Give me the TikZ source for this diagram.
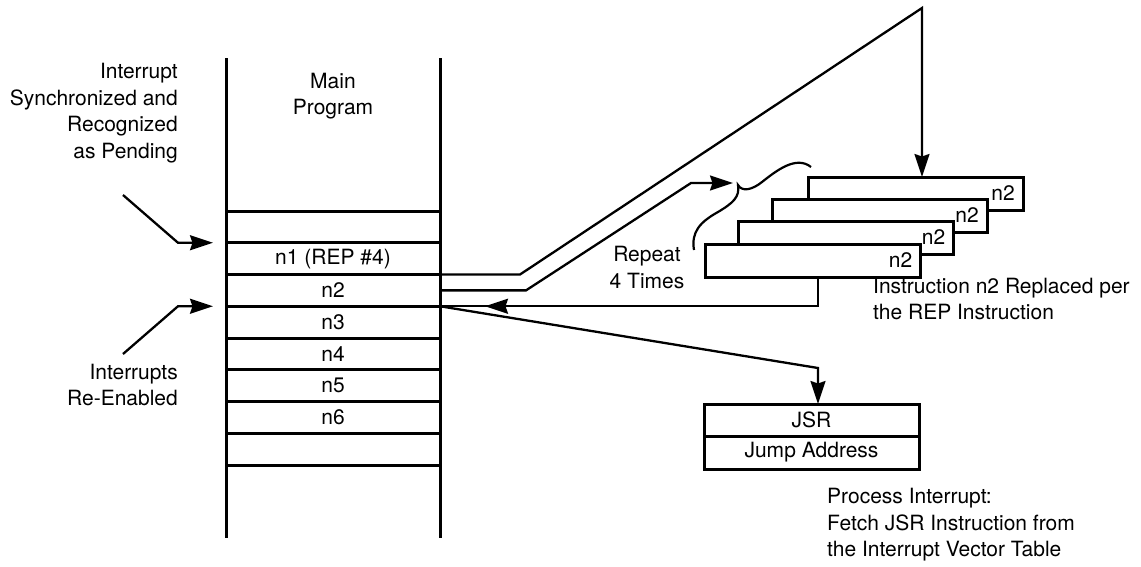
\documentclass[tikz,border=0pt]{standalone}
\usepackage{fontspec}
\setmainfont{TeX Gyre Heros}
\usetikzlibrary{arrows.meta}
\tikzset{
  colline/.style={line width=3pt},
  conn/.style={line width=2.3pt, line join=miter},
  tip/.style={-{Stealth[length=23pt,width=15pt,inset=2.5pt]}},
  rowbox/.style={draw, line width=3pt, minimum width=214pt, minimum height=31.75pt, inner sep=0pt, outer sep=0pt, anchor=north west, font=\fontsize{21}{26.5}\selectfont},
  ibox/.style={draw, fill=white, line width=3pt, minimum width=215pt, minimum height=33pt, inner sep=0pt, outer sep=0pt},
  jbox/.style={draw, line width=3pt, minimum width=215pt, inner sep=0pt, outer sep=0pt, font=\fontsize{21}{26.5}\selectfont},
  txt/.style={inner sep=0pt, font=\fontsize{21}{26.5}\selectfont},
}
\begin{document}
\begin{tikzpicture}[x=1pt,y=-1pt]
\useasboundingbox (0,0) rectangle (1141,566);

% main program column
\coordinate (cTL) at (226,58);
\coordinate (cBL) at (226,538);
\coordinate (cTR) at (440,58);
\coordinate (cBR) at (440,538);
\draw[colline] (cTL) -- (cBL);
\draw[colline] (cTR) -- (cBR);

\node[rowbox] (r1) at (226,211) {};
\node[rowbox] (r2) at (226,242.75) {n1 (REP \#4)};
\node[rowbox] (r3) at (226,274.5) {n2};
\node[rowbox] (r4) at (226,306.25) {n3};
\node[rowbox] (r5) at (226,338) {n4};
\node[rowbox] (r6) at (226,369.75) {n5};
\node[rowbox] (r7) at (226,401.5) {n6};
\node[rowbox] (r8) at (226,433.25) {};

\node[txt, align=center] (mp) at (333,96) {Main\\Program};

% left labels
\node[txt, align=right, anchor=east] (t1) at (178,113) {Interrupt\\Synchronized and\\Recognized\\as Pending};
\node[txt, align=right, anchor=east] (t2) at (178,385) {Interrupts\\Re-Enabled};

\coordinate (p1s) at (123,195);
\coordinate (p2s) at (123,354);
\draw[conn,tip] (p1s) -- ([xshift=-48pt]r2.north west) -- ([xshift=-13pt]r2.north west);
\draw[conn,tip] (p2s) -- ([xshift=-48pt]r4.north west) -- ([xshift=-13pt]r4.north west);

% replaced instruction stack
\node[ibox] (b1) at (915.5,193.5) {};
\node[txt, anchor=east] (l1) at ([xshift=-8pt]b1.east) {n2};
\node[ibox] (b2) at (879.5,215.5) {};
\node[txt, anchor=east] (l2) at ([xshift=-8pt]b2.east) {n2};
\node[ibox] (b3) at (846,237.5) {};
\node[txt, anchor=east] (l3) at ([xshift=-8pt]b3.east) {n2};
\node[ibox] (b4) at (813,260.5) {};
\node[txt, anchor=east] (l4) at ([xshift=-8pt]b4.east) {n2};

\node[txt, align=left, anchor=west] (t3) at (873,299) {Instruction n2 Replaced per\\the REP Instruction};
\node[txt, align=center] (t4) at (647,267.5) {Repeat\\4 Times};

% brace
\coordinate (brc) at (738,185);
\draw[line width=2.2pt] (694,250) .. controls (691,232) and (700,222) .. (718,212)
  .. controls (733,203) and (740,197) .. (brc)
  .. controls (742,192) and (752,190) .. (762,182)
  .. controls (776,171) and (796,155) .. (811,167);

% connectors from n1 / n2
\coordinate (apex) at (922,8);
\draw[conn,tip] (r3.north east) -- ++(80,0) -- (apex) -- (apex |- b1.north);
\coordinate (bk) at (691,183);
\coordinate (brarr) at (733,183);
\draw[conn,tip] (r3.east) -- ++(86,0) -- (bk) -- (brarr);

% return path
\coordinate (ret) at ([xshift=5pt]b4.south);
\draw[conn] (ret) -- (ret |- r4.north) -- (r4.north east);
\draw[conn,tip] (ret |- r4.north) -- ([xshift=45pt]r4.north east);

% JSR
\node[jbox, minimum height=32pt] (j1) at (811.5,420) {JSR};
\node[jbox, minimum height=33pt] (j2) at (811.5,452.5) {Jump Address};
\coordinate (jk) at (818,368);
\draw[conn,tip] (r4.north east) -- (jk) -- (jk |- j1.north);

\node[txt, align=left, anchor=west] (t5) at (827,525) {Process Interrupt:\\Fetch JSR Instruction from\\the Interrupt Vector Table};
\end{tikzpicture}
\end{document}
